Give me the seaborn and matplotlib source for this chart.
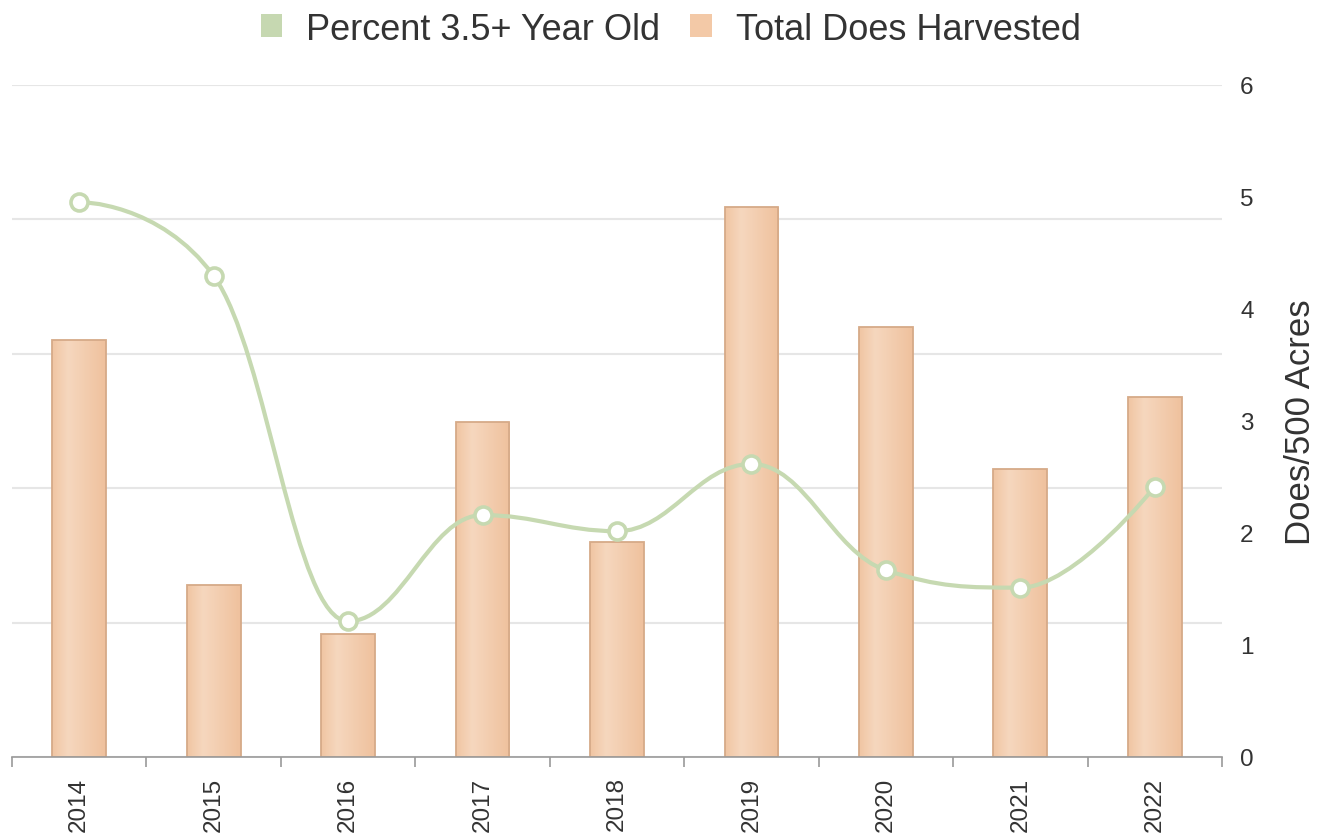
import numpy as np
import pandas as pd
import matplotlib
matplotlib.use("Agg")
import matplotlib.pyplot as plt
import seaborn as sns
from matplotlib.path import Path
from matplotlib.patches import PathPatch, Patch
from matplotlib.colors import LinearSegmentedColormap
from matplotlib.ticker import FixedLocator

years = ["2014", "2015", "2016", "2017", "2018", "2019", "2020", "2021", "2022"]
does_per_500 = [3.72, 1.54, 1.10, 2.99, 1.92, 4.91, 3.84, 2.57, 3.21]
pct_old = [41.3, 35.8, 10.1, 18.0, 16.8, 21.8, 13.9, 12.6, 20.1]

sns.set_theme(style="white")
plt.rcParams["font.family"] = ["Liberation Sans", "DejaVu Sans"]

BAR_EDGE = "#d6aa88"
LINE_C = "#c6d9b1"
TEXT_C = "#333333"
AXIS_C = "#9a9a9a"

fig = plt.figure(figsize=(13.29, 8.37), dpi=100)
ax = fig.add_axes([12 / 1329, 1 - 758 / 837, (1222 - 12) / 1329, (758 - 86) / 837])
ax2 = ax.twinx()
ax3 = ax.twinx()

df = pd.DataFrame({"year": years, "does": does_per_500, "pct": pct_old})

# grid on hidden percent axis
ax.set_ylim(0, 50)
ax.set_yticks([0, 10, 20, 30, 40, 50])
ax.yaxis.grid(True, color="#e6e6e6", linewidth=1.5)
ax.tick_params(axis="y", left=False, labelleft=False, right=False, labelright=False)
ax.tick_params(axis="x", which="both", bottom=False, labelbottom=False)
for s in ax.spines.values():
    s.set_visible(False)

# bars
sns.barplot(data=df, x="year", y="does", order=years, ax=ax2, width=0.4,
            color="#f2c9a6", edgecolor=BAR_EDGE, linewidth=1.3, saturation=1)
cmap = LinearSegmentedColormap.from_list(
    "bar", [(0, "#f0c5a2"), (0.3, "#f6d7be"), (1, "#efc19d")])
grad = np.linspace(0, 1, 256).reshape(1, -1)
for p in list(ax2.patches):
    x0, y0 = p.get_x(), p.get_y()
    w, h = p.get_width(), p.get_height()
    im = ax2.imshow(grad, extent=[x0, x0 + w, y0, y0 + h], aspect="auto",
                    cmap=cmap, zorder=p.get_zorder() - 0.05, interpolation="bilinear")
    im.set_clip_path(p)
    p.set_facecolor("none")
    p.set_zorder(p.get_zorder() + 0.1)

ax2.xaxis.set_visible(True)
ax2.set_xlim(-0.5, len(years) - 0.5)
ax2.set_ylim(0, 6)
ax2.set_yticks(range(0, 7))
ax2.yaxis.tick_right()
ax2.yaxis.set_label_position("right")
ax2.tick_params(axis="y", length=0, pad=13, labelsize=17.5, labelcolor=TEXT_C)
ax2.set_ylabel("Does/500 Acres", fontsize=25, color=TEXT_C, labelpad=22)
ax2.set_xlabel("")
ax2.set_xticks(range(len(years)))
ax2.set_xticklabels(years)
ax2.tick_params(axis="x", which="major", bottom=True, labelbottom=True, length=0, pad=14,
                labelsize=17.5, labelcolor=TEXT_C, labelrotation=90)
ax2.xaxis.set_minor_locator(FixedLocator(np.arange(-0.5, len(years), 1.0)))
ax2.tick_params(axis="x", which="minor", length=7, width=1.2, color=AXIS_C, bottom=True)
for k, s in ax2.spines.items():
    s.set_visible(k == "bottom")
ax2.spines["bottom"].set_color(AXIS_C)
ax2.spines["bottom"].set_linewidth(1.2)

# spline line (Highcharts-style control points)
ax3.set_ylim(0, 50)
xs = np.arange(len(years), dtype=float)
ys = np.array(pct_old, dtype=float)
sm, den = 1.5, 2.5
lc = [None] * len(xs)
rc = [None] * len(xs)
for i in range(1, len(xs) - 1):
    px, py = xs[i], ys[i]
    lx, ly = xs[i - 1], ys[i - 1]
    nx, ny = xs[i + 1], ys[i + 1]
    lcx = (sm * px + lx) / den
    lcy = (sm * py + ly) / den
    rcx = (sm * px + nx) / den
    rcy = (sm * py + ny) / den
    corr = ((rcy - lcy) * (rcx - px)) / (rcx - lcx) + py - rcy
    lcy += corr
    rcy += corr
    if lcy > ly and lcy > py:
        lcy = max(ly, py); rcy = 2 * py - lcy
    elif lcy < ly and lcy < py:
        lcy = min(ly, py); rcy = 2 * py - lcy
    if rcy > ny and rcy > py:
        rcy = max(ny, py); lcy = 2 * py - rcy
    elif rcy < ny and rcy < py:
        rcy = min(ny, py); lcy = 2 * py - rcy
    lc[i] = (lcx, lcy)
    rc[i] = (rcx, rcy)
verts = [(xs[0], ys[0])]
codes = [Path.MOVETO]
for i in range(1, len(xs)):
    c1 = rc[i - 1] if rc[i - 1] is not None else (xs[i - 1], ys[i - 1])
    c2 = lc[i] if lc[i] is not None else (xs[i], ys[i])
    verts += [c1, c2, (xs[i], ys[i])]
    codes += [Path.CURVE4] * 3
ax3.add_patch(PathPatch(Path(verts, codes), facecolor="none", edgecolor=LINE_C,
                        linewidth=3, capstyle="round", joinstyle="round", zorder=3))
sns.scatterplot(x=xs, y=ys, ax=ax3, s=150, color="white", edgecolor=LINE_C,
                linewidth=2.6, zorder=4, legend=False)
ax3.set_xlim(-0.5, len(years) - 0.5)
ax3.set_ylim(0, 50)
ax3.tick_params(axis="y", left=False, right=False, labelleft=False, labelright=False)
ax3.xaxis.set_visible(False)
ax3.set_ylabel("")
for s in ax3.spines.values():
    s.set_visible(False)

handles = [Patch(facecolor="#c6d8b1", edgecolor="none", label="Percent 3.5+ Year Old"),
           Patch(facecolor="#f3c9a7", edgecolor="none", label="Total Does Harvested")]
fig.legend(handles=handles, loc="center", bbox_to_anchor=(0.5 + 6 / 1329, 1 - 30 / 837), ncol=2,
           frameon=False, fontsize=26, handlelength=0.6, handleheight=0.6,
           handletextpad=0.65, columnspacing=0.85, labelcolor=TEXT_C)

fig.savefig("out.png", dpi=100)
